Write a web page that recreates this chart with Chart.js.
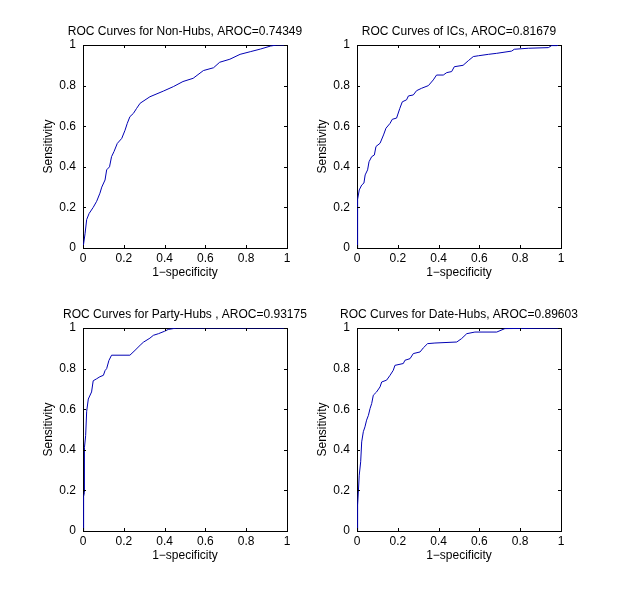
<!DOCTYPE html>
<html>
<head>
<meta charset="utf-8">
<script src="https://cdn.jsdelivr.net/npm/chart.js@4.4.0/dist/chart.umd.min.js"></script>
<style>
  html, body { margin: 0; padding: 0; background: #ffffff; overflow: hidden; }
  body { width: 625px; height: 599px; position: relative; }
  canvas { position: absolute; }
</style>
</head>
<body>
<canvas id="c1" width="324" height="259" style="left:23px;top:21px"></canvas>
<canvas id="c2" width="324" height="259" style="left:297px;top:21px"></canvas>
<canvas id="c3" width="324" height="259" style="left:23px;top:304px"></canvas>
<canvas id="c4" width="324" height="259" style="left:297px;top:304px"></canvas>
<script>
// ---- data ----
const tickValues = [0, 0.2, 0.4, 0.6, 0.8, 1];
const tickLabels = ['0', '0.2', '0.4', '0.6', '0.8', '1'];
const xAxisTitle = '1\u2212specificity';
const yAxisTitle = 'Sensitivity';
const chartTitles = [
  'ROC Curves for Non-Hubs, AROC=0.74349',
  'ROC Curves of ICs, AROC=0.81679',
  'ROC Curves for Party-Hubs , AROC=0.93175',
  'ROC Curves for Date-Hubs, AROC=0.89603'
];

const nonHubsFpr = [0, 0.010, 0.018, 0.030, 0.050, 0.067, 0.083, 0.092, 0.108, 0.116, 0.130, 0.140, 0.152, 0.168, 0.190, 0.206, 0.217, 0.230, 0.247, 0.263, 0.280, 0.328, 0.394, 0.443, 0.490, 0.540, 0.590, 0.640, 0.670, 0.720, 0.770, 0.820, 0.870, 0.920, 0.950, 1];
const nonHubsTpr = [0, 0.070, 0.140, 0.170, 0.200, 0.230, 0.270, 0.300, 0.335, 0.385, 0.400, 0.450, 0.475, 0.515, 0.540, 0.580, 0.614, 0.647, 0.663, 0.688, 0.713, 0.745, 0.773, 0.795, 0.820, 0.836, 0.874, 0.888, 0.915, 0.930, 0.954, 0.967, 0.980, 0.995, 1.000, 1];

const icsFpr = [0, 0.003, 0.011, 0.023, 0.034, 0.040, 0.052, 0.059, 0.072, 0.085, 0.093, 0.113, 0.130, 0.142, 0.162, 0.173, 0.194, 0.210, 0.222, 0.243, 0.252, 0.276, 0.292, 0.317, 0.350, 0.374, 0.390, 0.423, 0.440, 0.464, 0.477, 0.520, 0.546, 0.570, 0.595, 0.644, 0.685, 0.758, 0.771, 0.840, 0.938, 0.954, 0.980, 1];
const icsTpr = [0, 0.240, 0.286, 0.310, 0.320, 0.360, 0.385, 0.425, 0.450, 0.458, 0.500, 0.516, 0.557, 0.590, 0.614, 0.634, 0.640, 0.688, 0.720, 0.730, 0.749, 0.754, 0.775, 0.787, 0.800, 0.828, 0.852, 0.852, 0.864, 0.869, 0.893, 0.900, 0.923, 0.943, 0.947, 0.954, 0.959, 0.970, 0.979, 0.984, 0.987, 0.997, 0.997, 1];

const partyFpr = [0, 0.003, 0.007, 0.007, 0.013, 0.018, 0.026, 0.042, 0.050, 0.067, 0.083, 0.100, 0.108, 0.116, 0.127, 0.140, 0.152, 0.230, 0.255, 0.280, 0.296, 0.328, 0.345, 0.370, 0.400, 0.418, 0.460, 1];
const partyTpr = [0, 0.170, 0.190, 0.410, 0.470, 0.590, 0.650, 0.685, 0.740, 0.750, 0.760, 0.767, 0.790, 0.800, 0.840, 0.866, 0.866, 0.866, 0.890, 0.915, 0.930, 0.950, 0.964, 0.972, 0.984, 0.993, 1.000, 1];

const dateFpr = [0, 0.003, 0.007, 0.011, 0.018, 0.023, 0.031, 0.039, 0.047, 0.056, 0.064, 0.072, 0.080, 0.096, 0.113, 0.121, 0.145, 0.162, 0.178, 0.186, 0.227, 0.235, 0.260, 0.276, 0.309, 0.325, 0.346, 0.382, 0.489, 0.513, 0.538, 0.578, 0.685, 0.725, 1];
const dateTpr = [0, 0.128, 0.200, 0.275, 0.341, 0.439, 0.489, 0.513, 0.546, 0.570, 0.603, 0.628, 0.669, 0.685, 0.710, 0.734, 0.743, 0.767, 0.792, 0.816, 0.825, 0.841, 0.849, 0.874, 0.882, 0.902, 0.923, 0.926, 0.931, 0.948, 0.972, 0.980, 0.980, 0.997, 1];

// ---- chart construction ----
const FONT = { family: "'Liberation Sans', Arial, Helvetica, sans-serif", size: 12 };
const LINE_COLOR = '#0000b4';
const TICK_LEN = 3;

function setTicks(scale) {
  scale.ticks = tickValues.map(v => ({ value: v }));
}

// MATLAB-style inward tick marks on all four sides, placed via the chart's own scales
const inwardTicks = {
  id: 'inwardTicks',
  afterDatasetsDraw(chart) {
    const { ctx, chartArea: a, scales } = chart;
    ctx.save();
    ctx.strokeStyle = '#000000';
    ctx.lineWidth = 1;
    ctx.beginPath();
    scales.x.ticks.forEach(t => {
      const px = Math.round(scales.x.getPixelForValue(t.value)) + 0.5;
      ctx.moveTo(px, Math.round(a.bottom)); ctx.lineTo(px, Math.round(a.bottom) - TICK_LEN);
      ctx.moveTo(px, Math.round(a.top)); ctx.lineTo(px, Math.round(a.top) + TICK_LEN);
    });
    scales.y.ticks.forEach(t => {
      const py = Math.round(scales.y.getPixelForValue(t.value)) + 0.5;
      ctx.moveTo(Math.round(a.left), py); ctx.lineTo(Math.round(a.left) + TICK_LEN, py);
      ctx.moveTo(Math.round(a.right), py); ctx.lineTo(Math.round(a.right) - TICK_LEN, py);
    });
    ctx.stroke();
    ctx.restore();
  }
};

function baseScale(position, showLabels) {
  return {
    type: 'linear',
    position: position,
    min: 0,
    max: 1,
    afterBuildTicks: setTicks,
    ticks: {
      display: showLabels,
      color: '#000000',
      font: FONT,
      autoSkip: false,
      maxRotation: 0,
      callback: (v, i) => tickLabels[i]
    },
    grid: { display: false, drawTicks: false },
    border: { display: true, color: '#000000', width: 1 }
  };
}

function makeChart(id, title, fpr, tpr) {
  const points = fpr.map((x, i) => ({ x: x, y: tpr[i] }));
  const xs = baseScale('bottom', true);
  xs.ticks.padding = 3;
  xs.title = { display: true, text: xAxisTitle, color: '#000000', font: FONT, padding: { top: 0, bottom: 0 } };
  xs.afterFit = s => { s.height = 32; };

  const ys = baseScale('left', true);
  ys.ticks.padding = 7;
  ys.title = { display: true, text: yAxisTitle, color: '#000000', font: FONT, padding: { top: 18, bottom: 0 } };
  ys.afterFit = s => { s.width = 60; };

  const x2 = baseScale('top', false);
  x2.afterFit = s => { s.height = 0; };
  const y2 = baseScale('right', false);
  y2.afterFit = s => { s.width = 60; };

  return new Chart(document.getElementById(id), {
    type: 'scatter',
    data: {
      datasets: [{
        data: points,
        showLine: true,
        borderColor: LINE_COLOR,
        backgroundColor: LINE_COLOR,
        borderWidth: 1,
        pointRadius: 0,
        tension: 0,
        fill: false,
        xAxisID: 'x',
        yAxisID: 'y'
      }]
    },
    options: {
      responsive: false,
      animation: false,
      layout: { padding: 0 },
      plugins: {
        legend: { display: false },
        tooltip: { enabled: false },
        title: {
          display: true,
          text: title,
          color: '#000000',
          font: { family: FONT.family, size: 12, weight: 'normal', lineHeight: '14px' },
          padding: { top: 4, bottom: 6 }
        }
      },
      scales: { x: xs, y: ys, x2: x2, y2: y2 }
    },
    plugins: [inwardTicks]
  });
}

makeChart('c1', chartTitles[0], nonHubsFpr, nonHubsTpr);
makeChart('c2', chartTitles[1], icsFpr, icsTpr);
makeChart('c3', chartTitles[2], partyFpr, partyTpr);
makeChart('c4', chartTitles[3], dateFpr, dateTpr);
</script>
</body>
</html>
